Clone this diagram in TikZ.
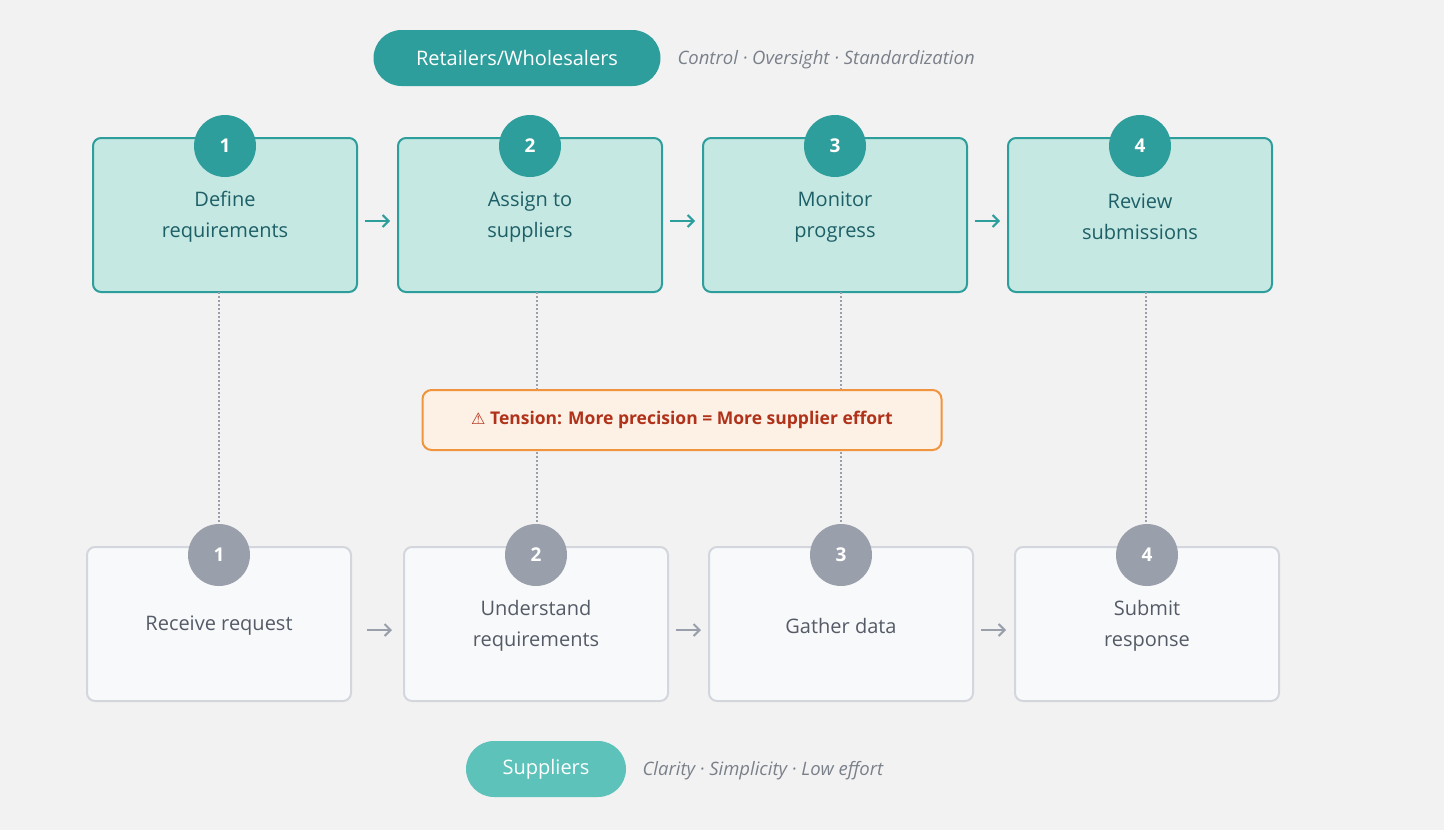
\documentclass[tikz,border=0pt]{standalone}
\usepackage{fontspec}
\setmainfont{Open Sans}
\newfontfamily\djv{DejaVu Sans}
\usetikzlibrary{arrows.meta}
\definecolor{bg}{HTML}{F2F2F2}
\definecolor{teal}{HTML}{2E9E9C}
\definecolor{tealfill}{HTML}{C5E8E3}
\definecolor{tealtxt}{HTML}{1D5F66}
\definecolor{lteal}{HTML}{5CC2BA}
\definecolor{gfill}{HTML}{F8F9FB}
\definecolor{gline}{HTML}{D3D6DC}
\definecolor{gtxt}{HTML}{555B66}
\definecolor{gcirc}{HTML}{9AA0AB}
\definecolor{itxt}{HTML}{7A808A}
\definecolor{orl}{HTML}{F0943E}
\definecolor{orf}{HTML}{FDF0E4}
\definecolor{ortxt}{HTML}{B0321A}
\begin{document}
\begin{tikzpicture}[x=1pt,y=-1pt,
 top/.style={draw=teal,line width=2pt,fill=tealfill,rounded corners=8pt,minimum width=264pt,minimum height=154pt},
 bot/.style={draw=gline,line width=2pt,fill=gfill,rounded corners=8pt,minimum width=264pt,minimum height=154pt},
 ttx/.style={text=tealtxt,font=\fontsize{20}{31}\selectfont,align=center},
 btx/.style={text=gtxt,font=\fontsize{20}{31}\selectfont,align=center},
 tc/.style={circle,fill=teal,minimum size=62pt,text=white,font=\bfseries\fontsize{19}{20}\selectfont},
 bc/.style={circle,fill=gcirc,minimum size=62pt,text=white,font=\bfseries\fontsize{19}{20}\selectfont},
 tar/.style={-{Straight Barb[length=6pt,width=12pt]},line width=2pt,teal},
 bar/.style={-{Straight Barb[length=6pt,width=12pt]},line width=2pt,gcirc},
 dl/.style={gcirc,line width=1.2pt,dash pattern=on 2pt off 2pt},
 it/.style={text=itxt,font=\itshape\fontsize{18.5}{20}\selectfont,anchor=west}]
\fill[bg] (0,0) rectangle (1444,830);
\useasboundingbox (0,0) rectangle (1444,830);
% header
\node[fill=teal,rounded corners=28pt,minimum width=287pt,minimum height=56pt,text=white,font=\fontsize{20}{24}\selectfont] (hdr) at (517,58) {Retailers/Wholesalers};
\node[it] (hdrt) at (674,60) {Control · Oversight · Standardization};
\node[fill=lteal,rounded corners=28pt,minimum width=160pt,minimum height=56pt,text=white,font=\fontsize{20}{24}\selectfont] (sup) at (546,769) {Suppliers};
\node[it] (supt) at (639,771) {Clarity · Simplicity · Low effort};
% top boxes
\node[top] (t1) at (225,215) {};
\node[top] (t2) at (530,215) {};
\node[top] (t3) at (835,215) {};
\node[top] (t4) at (1140,215) {};
\node[ttx] (l1) at (225,217) {Define\\requirements};
\node[ttx] (l2) at (530,217) {Assign to\\suppliers};
\node[ttx] (l3) at (835,217) {Monitor\\progress};
\node[ttx] (l4) at (1140,217) {Review\\submissions};
% bottom boxes
\node[bot] (b1) at (219,624) {};
\node[bot] (b2) at (536,624) {};
\node[bot] (b3) at (841,624) {};
\node[bot] (b4) at (1147,624) {};
\node[btx] (m1) at (219,626) {Receive request};
\node[btx] (m2) at (536,626) {Understand\\requirements};
\node[btx] (m3) at (841,626) {Gather data};
\node[btx] (m4) at (1147,626) {Submit\\response};
% dotted
\coordinate (d1) at (219,292); \coordinate (d2) at (537,292);
\coordinate (d3) at (841,292); \coordinate (d4) at (1146,292);
\draw[dl] (d1) -- (219,527);
\draw[dl] (d2) -- (537,527);
\draw[dl] (d3) -- (841,527);
\draw[dl] (d4) -- (1146,527);
% circles
\node[tc] (c1) at (225,146) {1};
\node[tc] (c2) at (530,146) {2};
\node[tc] (c3) at (835,146) {3};
\node[tc] (c4) at (1140,146) {4};
\node[bc] (e1) at (219,555) {1};
\node[bc] (e2) at (536,555) {2};
\node[bc] (e3) at (841,555) {3};
\node[bc] (e4) at (1147,555) {4};
% tension
\node[draw=orl,line width=2pt,fill=orf,rounded corners=9pt,minimum width=519pt,minimum height=60pt,text=ortxt,font=\bfseries\fontsize{17.5}{20}\selectfont] (ten) at (682,420) {{\djv\fontsize{16}{16}\selectfont ⚠}\ Tension: More precision = More supplier effort};
% arrows
\coordinate (ta1) at (365,221); \coordinate (ta2) at (390,221);
\coordinate (ta3) at (670,221); \coordinate (ta4) at (695,221);
\coordinate (ta5) at (975,221); \coordinate (ta6) at (1000,221);
\draw[tar] (ta1) -- (ta2);
\draw[tar] (ta3) -- (ta4);
\draw[tar] (ta5) -- (ta6);
\coordinate (ba1) at (367,630); \coordinate (ba2) at (392,630);
\coordinate (ba3) at (676,630); \coordinate (ba4) at (701,630);
\coordinate (ba5) at (981,630); \coordinate (ba6) at (1006,630);
\draw[bar] (ba1) -- (ba2);
\draw[bar] (ba3) -- (ba4);
\draw[bar] (ba5) -- (ba6);
\end{tikzpicture}
\end{document}
